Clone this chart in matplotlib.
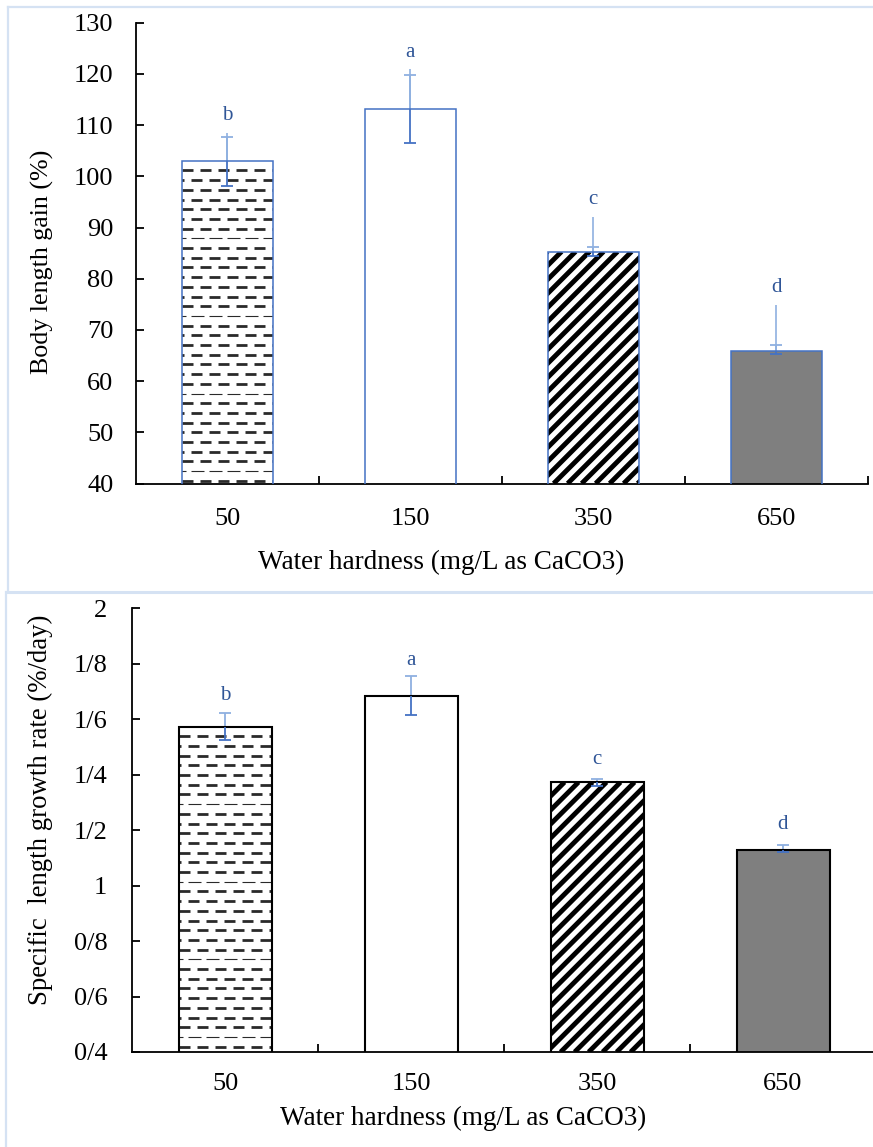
import numpy as np
import matplotlib
matplotlib.use('Agg')
import matplotlib.pyplot as plt
from matplotlib.collections import LineCollection
from matplotlib.transforms import IdentityTransform, Bbox
from matplotlib.lines import Line2D

plt.rcParams['font.family'] = ['Liberation Serif', 'DejaVu Serif']

# ---------------- data ----------------
categories = ['50', '150', '350', '650']
x_title = 'Water hardness (mg/L as CaCO3)'

# Panel 1: Body length gain (%)
blg_title = 'Body length gain (%)'
blg_values = [103.0, 113.2, 85.3, 65.9]
blg_err_low = [98.2, 106.6, 84.4, 65.3]
blg_err_high = [107.7, 119.8, 86.2, 67.0]
blg_whisker_top = [108.4, 121.0, 92.1, 74.9]
blg_letters = ['b', 'a', 'c', 'd']
blg_letter_y = [111.8, 124.1, 95.4, 78.2]
blg_yticks = [40, 50, 60, 70, 80, 90, 100, 110, 120, 130]
blg_yticklabels = ['40', '50', '60', '70', '80', '90', '100', '110', '120', '130']

# Panel 2: Specific length growth rate (%/day)
slgr_title = 'Specific  length growth rate (%/day)'
slgr_values = [1.573, 1.684, 1.373, 1.129]
slgr_err_low = [1.525, 1.617, 1.361, 1.123]
slgr_err_high = [1.624, 1.757, 1.385, 1.145]
slgr_letters = ['b', 'a', 'c', 'd']
slgr_letter_y = [1.684, 1.810, 1.453, 1.219]
slgr_yticks = [0.4, 0.6, 0.8, 1.0, 1.2, 1.4, 1.6, 1.8, 2.0]
slgr_yticklabels = ['0/4', '0/6', '0/8', '1', '1/2', '1/4', '1/6', '1/8', '2']

# ---------------- style ----------------
patterns = ['dash', None, 'diag', None]
facecolors = ['white', 'white', 'white', '#7F7F7F']
DARK_BLUE = '#4472C4'
LIGHT_BLUE = '#8FB0E0'
LETTER_BLUE = '#2F5597'
FRAME = '#D5E2F3'

W, H = 873, 1147
fig = plt.figure(figsize=(W / 100, H / 100), dpi=100)


def px_axes(left, top, right, bottom):
    return fig.add_axes([left / W, 1 - bottom / H, (right - left) / W, (bottom - top) / H])


def visible_box(ax, patch):
    bb = patch.get_window_extent()
    ab = ax.bbox
    return Bbox([[max(bb.x0, ab.x0), max(bb.y0, ab.y0)],
                 [min(bb.x1, ab.x1), min(bb.y1, ab.y1)]])


def add_clipped(ax, lc, box):
    ax.add_collection(lc, autolim=False)
    lc.set_clip_path(None)
    lc.set_clip_box(box)
    lc.set_clip_on(True)


def dash_pattern(ax, patch):
    bb = visible_box(ax, patch)
    segs, widths = [], []
    row = 0
    y = bb.y1 - 9.5
    while y > bb.y0:
        if row % 8 == 7:
            dash, gap, lw = 13.0, 5.0, 0.8
        else:
            dash, gap, lw = 11.0, 7.0, 2.0
        period = dash + gap
        off = (row % 2) * period / 2
        xx = bb.x0 - period + off
        while xx < bb.x1:
            segs.append([(xx, y), (xx + dash, y)])
            widths.append(lw)
            xx += period
        y -= 9.7
        row += 1
    lc = LineCollection(segs, linewidths=widths, colors='#2a2a2a',
                        transform=IdentityTransform(), zorder=2.5)
    add_clipped(ax, lc, bb)


def diag_pattern(ax, patch):
    bb = visible_box(ax, patch)
    h = bb.height
    p = 14.0
    segs = []
    c = bb.x0 - h - p
    while c < bb.x1 + p:
        segs.append([(c, bb.y0), (c + h, bb.y1)])
        c += p
    lc = LineCollection(segs, linewidths=3.5, colors='black',
                        transform=IdentityTransform(), zorder=2.5)
    add_clipped(ax, lc, bb)


def panel(ax, values, lo, hi, whisker_top, letters, letter_y, yticks, yticklabels,
          ylim, edgecolor, edge_lw, xpad, ypad):
    x = np.arange(len(categories))
    vals = np.array(values, dtype=float)
    lo = np.array(lo, dtype=float)
    hi = np.array(hi, dtype=float)
    ax.set_xlim(-0.5, len(categories) - 0.5)
    ax.set_ylim(*ylim)
    bars = ax.bar(x, vals, width=0.5, color=facecolors, edgecolor='none', zorder=2)
    for b, pat in zip(bars, patterns):
        if pat == 'dash':
            dash_pattern(ax, b)
        elif pat == 'diag':
            diag_pattern(ax, b)
    zeros = np.zeros_like(vals)
    # upper (light) part of the error bars
    if whisker_top is not None:
        ax.vlines(x, vals, whisker_top, colors=LIGHT_BLUE, linewidth=1.2, zorder=2.6)
    eb_l = ax.errorbar(x, vals, yerr=[zeros, hi - vals], fmt='none', ecolor=LIGHT_BLUE,
                       elinewidth=1.3, capsize=4.5, capthick=1.3, zorder=2.7)
    eb_l[1][0].set_visible(False)
    # edges of bars
    ax.bar(x, vals, width=0.5, fill=False, edgecolor=edgecolor, linewidth=edge_lw, zorder=2.8)
    # lower (dark) part of the error bars
    eb_d = ax.errorbar(x, vals, yerr=[vals - lo, zeros], fmt='none', ecolor=DARK_BLUE,
                       elinewidth=1.3, capsize=4.5, capthick=1.3, zorder=3)
    eb_d[1][1].set_visible(False)
    for xi, t, ty in zip(x, letters, letter_y):
        ax.text(xi, ty, t, ha='center', va='center', color=LETTER_BLUE, fontsize=15, zorder=4)
    for s in ['top', 'right']:
        ax.spines[s].set_visible(False)
    for s in ['left', 'bottom']:
        ax.spines[s].set_linewidth(1.3)
    ax.set_yticks(yticks)
    ax.set_yticklabels(yticklabels)
    ax.set_xticks(np.arange(len(categories)) + 0.5)
    ax.set_xticks(x, minor=True)
    ax.set_xticklabels(categories, minor=True)
    ax.tick_params(axis='y', direction='in', length=5.5, width=1.3, labelsize=19, pad=ypad)
    ax.tick_params(axis='x', which='major', direction='in', length=5.5, width=1.3,
                   labelbottom=False)
    ax.tick_params(axis='x', which='minor', length=0, labelsize=19, pad=xpad)
    ax.set_facecolor('none')


ax1 = px_axes(136, 22.7, 867.7, 483.5)
panel(ax1, blg_values, blg_err_low, blg_err_high, blg_whisker_top, blg_letters, blg_letter_y,
      blg_yticks, blg_yticklabels, (40, 130), DARK_BLUE, 1.1, 17.5, 16.3)

ax2 = px_axes(132, 608.3, 876, 1052)
panel(ax2, slgr_values, slgr_err_low, slgr_err_high, None, slgr_letters, slgr_letter_y,
      slgr_yticks, slgr_yticklabels, (0.4, 2.0), 'black', 1.5, 15.0, 17.8)

# axis titles
fig.text(441 / W, 1 - 562 / H, x_title, ha='center', va='center', fontsize=19.5)
fig.text(42 / W, 1 - 262 / H, blg_title, rotation=90, ha='center', va='center', fontsize=18.7)
fig.text(463 / W, 1 - 1118 / H, x_title, ha='center', va='center', fontsize=19.5)
fig.text(40 / W, 1 - 810 / H, slgr_title, rotation=90, ha='center', va='center', fontsize=19.3)

# light frames around the two chart areas
def fline(x0, y0, x1, y1, lw=1.6):
    fig.add_artist(Line2D([x0 / W, x1 / W], [1 - y0 / H, 1 - y1 / H], color=FRAME,
                          linewidth=lw, transform=fig.transFigure))

fline(8, 6.7, W, 6.7)
fline(8, 6.7, 8, 591)
fline(8, 591.5, W, 591.5, lw=2.2)
fline(6, 592, 6, H)

fig.savefig('out.png', dpi=100)
